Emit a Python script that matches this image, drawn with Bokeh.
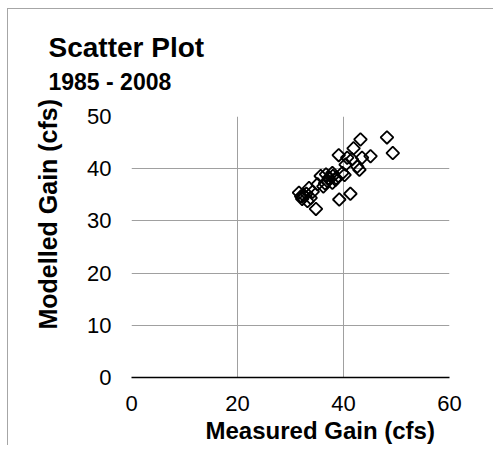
from bokeh.plotting import figure
from bokeh.models import Range1d, FixedTicker, Title, ColumnDataSource
from bokeh.embed import file_html
from bokeh.resources import INLINE
import math

title_text = "Scatter Plot"
subtitle_text = "1985 - 2008"
x_label = "Measured Gain (cfs)"
y_label = "Modelled Gain (cfs)"

x_ticks = [0, 20, 40, 60]
y_ticks = [0, 10, 20, 30, 40, 50]

measured = [48.2, 49.3, 43.2, 41.9, 45.1, 43.5, 39.1, 40.7, 41.6, 43.0,
            42.6, 40.4, 39.8, 40.2, 38.5, 37.9, 37.0, 36.7, 35.7, 35.1,
            36.2, 37.9, 38.6, 33.5, 33.8, 34.8, 31.6, 32.0, 32.5, 33.0,
            32.2, 39.2, 41.3, 37.2, 38.0, 36.5, 34.2, 33.2]
modelled = [46.0, 43.0, 45.6, 43.9, 42.4, 42.1, 42.6, 42.1, 41.8, 39.8,
            40.4, 40.8, 39.2, 38.8, 37.9, 39.2, 37.6, 38.9, 38.6, 37.0,
            36.6, 37.3, 38.2, 36.3, 34.4, 32.3, 35.4, 34.7, 34.9, 35.2,
            34.2, 34.1, 35.2, 38.2, 38.6, 37.2, 35.6, 33.8]

FONT = "Liberation Sans"

p = figure(frame_width=318, frame_height=261, output_backend="svg",
           toolbar_location=None,
           x_range=Range1d(0, 60), y_range=Range1d(0, 50),
           min_border_left=112, min_border_top=107, min_border_right=44,
           min_border_bottom=68,
           styles={"position": "relative", "left": "7px", "top": "8px",
                   "border-left": "1px solid #a6a6a6",
                   "border-top": "1px solid #a6a6a6"})
p.outline_line_color = None

# main title (outermost)
p.title.text = title_text
p.title.text_font = FONT
p.title.text_font_size = "28px"
p.title.text_font_style = "bold"
p.title.text_color = "black"
p.title.align = "left"
p.title.offset = -83
p.title.standoff = -35

# subtitle (closest to the frame)
p.add_layout(Title(text=subtitle_text, text_font=FONT, text_font_size="23px",
                   text_font_style="bold", text_color="black", align="left",
                   offset=-83, standoff=43, text_line_height=0.9), "above")
p.add_layout(Title(text=x_label, text_font=FONT, text_font_size="24px",
                   text_font_style="bold", text_color="black", align="left",
                   offset=74, standoff=2), "below")
p.add_layout(Title(text=y_label, text_font=FONT, text_font_size="25px",
                   text_font_style="bold", text_color="black", align="left",
                   offset=48, standoff=46), "left")

src = ColumnDataSource(dict(x=measured, y=modelled))
p.scatter("x", "y", source=src, marker="square", size=9, angle=math.pi / 4,
          line_color="black", line_width=1.8, fill_alpha=0)

p.xaxis.ticker = FixedTicker(ticks=x_ticks)
p.yaxis.ticker = FixedTicker(ticks=y_ticks)
for ax in (p.xaxis[0], p.yaxis[0]):
    ax.major_tick_out = 0
    ax.major_tick_in = 0
    ax.minor_tick_out = 0
    ax.minor_tick_in = 0
    ax.major_label_text_font = FONT
    ax.major_label_text_font_size = "22px"
    ax.major_label_text_color = "black"
p.xaxis.axis_line_color = "black"
p.xaxis.axis_line_width = 1.5
p.yaxis.axis_line_color = None
p.xaxis.major_label_standoff = 18
p.yaxis.major_label_standoff = 20

p.xgrid.ticker = FixedTicker(ticks=x_ticks)
p.ygrid.ticker = FixedTicker(ticks=y_ticks)
p.grid.grid_line_color = "#a0a0a0"
p.grid.grid_line_width = 1

open("out.html", "w").write(file_html(p, INLINE))
